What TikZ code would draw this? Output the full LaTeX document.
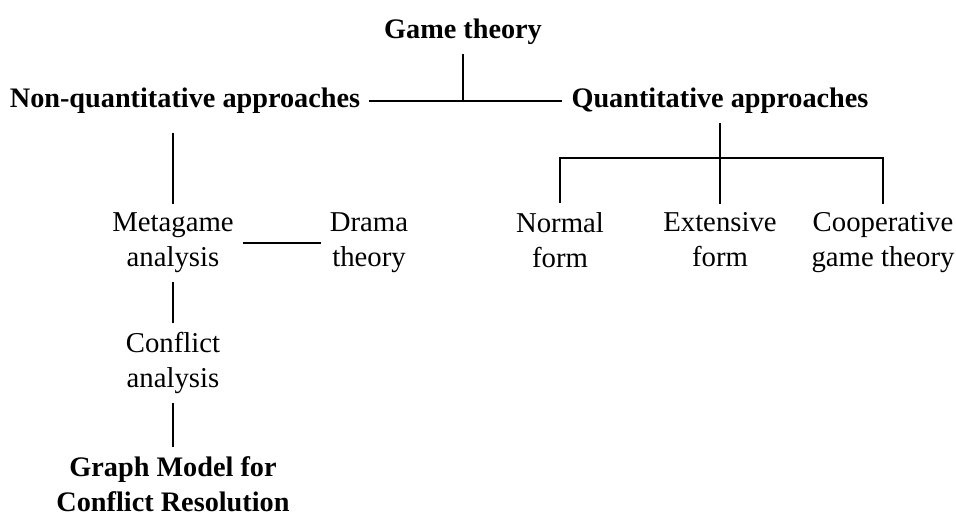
\documentclass[tikz,border=0pt]{standalone}
\usepackage{fontspec}
\setmainfont{Liberation Serif}
\usetikzlibrary{positioning}

\begin{document}
\begin{tikzpicture}[x=0.4pt,y=-0.4pt,font=\fontsize{11.5}{14}\selectfont,line width=0.75pt,
  head/.style={font=\fontsize{11.3}{14}\selectfont\bfseries,align=center},
  leaf/.style={align=center}]
\useasboundingbox (0,0) rectangle (956,516);
\node[head] (gt) at (463,32) {Game theory};
\node[head] (nq) at (185,101) {Non-quantitative approaches};
\node[head] (qa) at (720,101) {Quantitative approaches};
\node[leaf] (meta) at (173,243) {Metagame\\analysis};
\node[leaf] (drama) at (369,243) {Drama\\theory};
\node[leaf] (conf) at (173,363) {Conflict\\analysis};
\node[head] (gmcr) at (173,484) {Graph Model for\\Conflict Resolution};
\node[leaf] (norm) at (560,240) {Normal\\form};
\node[leaf] (ext) at (720,240) {Extensive\\form};
\node[leaf] (coop) at (883,243) {Cooperative\\game theory};
\coordinate (fork) at (720,158);
\draw (nq.east) -- (qa.west);
\draw (gt.south) -- (gt |- nq.east);
\draw[shorten <=4pt] (nq.south -| meta) -- (meta.north);
\draw (meta.east) -- (drama.west);
\draw (meta.south) -- (conf.north);
\draw (conf.south) -- (gmcr.north);
\draw (qa.south) -- (ext.north);
\draw (norm.north) |- (fork) -| (coop.north);
\end{tikzpicture}
\end{document}
